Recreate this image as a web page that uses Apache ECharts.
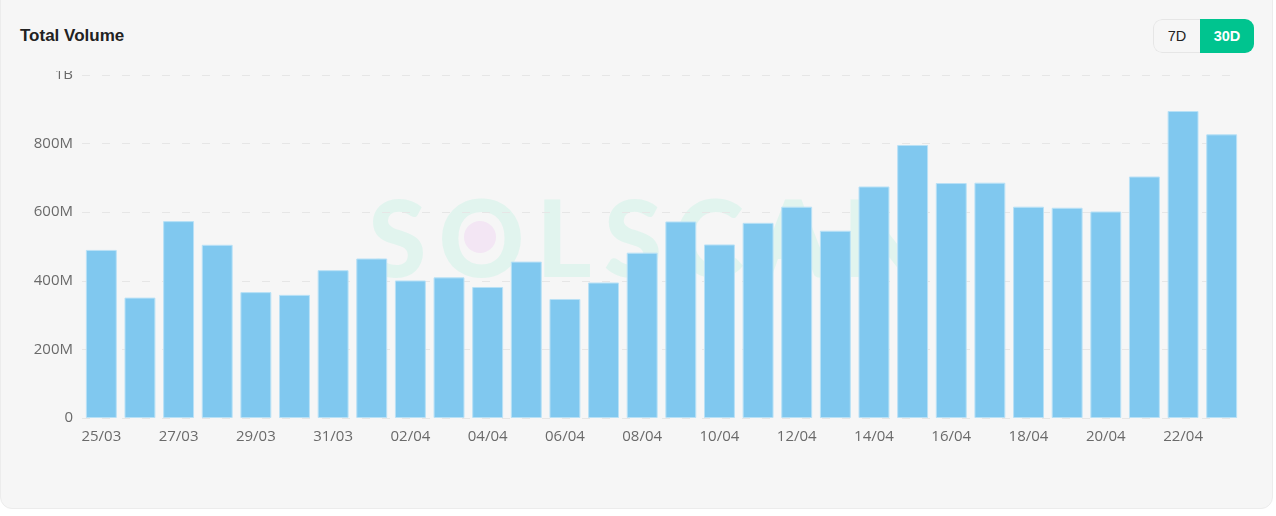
<!DOCTYPE html>
<html>
<head>
<meta charset="utf-8">
<script src="https://cdn.jsdelivr.net/npm/echarts@6/dist/echarts.min.js"></script>
<style>
  html, body { margin: 0; padding: 0; background: #ffffff; width: 1276px; height: 516px; overflow: hidden; }
  #card { position: absolute; left: 0; top: -12px; width: 1273px; height: 521px; background: #f6f6f6;
          border: 1px solid #ececec; border-radius: 12px; box-sizing: border-box; }
  #title { position: absolute; left: 20px; top: 26px; font-family: "Liberation Sans", Arial, sans-serif;
           font-weight: bold; font-size: 17px; letter-spacing: 0px; color: #222; }
  #btns { position: absolute; left: 1153px; top: 19px; height: 34px; display: flex; border-radius: 9px; overflow: hidden;
          font-family: "Liberation Sans", Arial, sans-serif; font-size: 14.5px; }
  #btns div { display: flex; align-items: center; justify-content: center; height: 34px; box-sizing: border-box; }
  #b7 { width: 47px; border: 1px solid #e6e6e6; border-right: none; border-radius: 9px 0 0 9px; color: #222; background: #f6f6f6; }
  #b30 { width: 54px; background: #00c48f; color: #fff; font-weight: bold; }
  #wm { position: absolute; left: 368px; top: 171px; font-family: Lato, sans-serif; font-weight: 900; font-size: 106px;
        letter-spacing: 12px; color: #e1f4ee; line-height: 130px; white-space: nowrap; }
  #dot { position: absolute; left: 464px; top: 221px; width: 32px; height: 32px; border-radius: 50%; background: #f3e6f4; }
  #chart { position: absolute; left: 0; top: 0; width: 1276px; height: 516px; clip-path: inset(71px 0 0 0); }
</style>
</head>
<body>
<div id="card"></div>
<div id="title">Total Volume</div>
<div id="btns"><div id="b7">7D</div><div id="b30">30D</div></div>
<div id="wm">SOLSCAN</div>
<div id="dot"></div>
<div id="chart"></div>
<script>
const categories = ["25/03","26/03","27/03","28/03","29/03","30/03","31/03","01/04","02/04","03/04",
  "04/04","05/04","06/04","07/04","08/04","09/04","10/04","11/04","12/04","13/04",
  "14/04","15/04","16/04","17/04","18/04","19/04","20/04","21/04","22/04","23/04"];
// values in millions
const volume = [490, 351, 574, 505, 367, 359, 431, 465, 401, 410,
  382, 456, 347, 395, 482, 573, 506, 569, 616, 546,
  675, 796, 685, 686, 616, 613, 602, 704, 895, 827];
const yTickLabels = {0: "0", 200: "200M", 400: "400M", 600: "600M", 800: "800M", 1000: "1B"};

const chart = echarts.init(document.getElementById('chart'), null, {renderer: 'canvas'});
chart.setOption({
  backgroundColor: 'transparent',
  animation: false,
  grid: {left: 82, right: 35, top: 75, bottom: 98, containLabel: false},
  xAxis: {
    type: 'category',
    data: categories,
    axisLine: {show: false},
    axisTick: {show: false},
    axisLabel: {interval: 1, color: '#6a6a6a', fontSize: 15, margin: 11, fontFamily: '"Open Sans", sans-serif'}
  },
  yAxis: {
    type: 'value',
    min: 0, max: 1000, interval: 200,
    axisLine: {show: false},
    axisTick: {show: false},
    axisLabel: {color: '#6a6a6a', fontSize: 15, margin: 9, fontFamily: '"Open Sans", sans-serif',
      formatter: v => yTickLabels[v]},
    splitLine: {lineStyle: {color: '#e6e6e6', type: [8, 12]}}
  },
  series: [{
    type: 'bar',
    data: volume,
    barWidth: '80%',
    itemStyle: {color: '#80c8ef', borderColor: '#b9e1f6', borderWidth: 1}
  }]
});
</script>
</body>
</html>
